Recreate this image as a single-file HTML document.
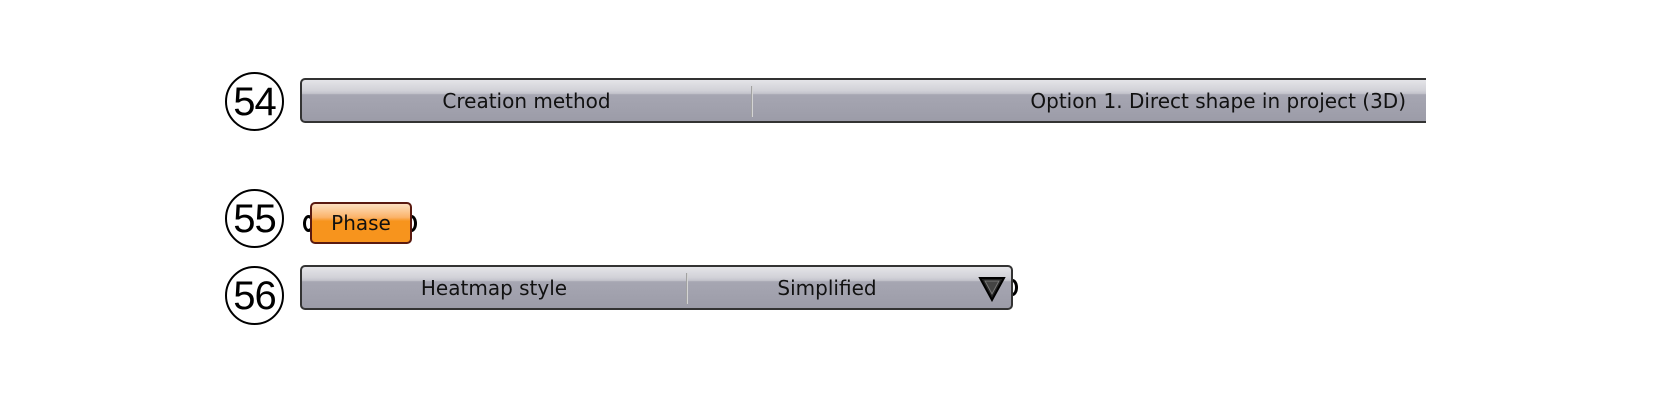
<!DOCTYPE html>
<html><head><style>
body{margin:0;width:1667px;height:400px;background:#fff;position:relative;overflow:hidden;font-family:"DejaVu Sans","Liberation Sans",sans-serif;}
.c{position:absolute;width:59px;height:59px;border:2px solid #000;border-radius:50%;box-sizing:border-box;font-family:"Liberation Sans",sans-serif;font-size:40px;line-height:56px;text-align:center;color:#000;letter-spacing:-1px;}
.bar{position:absolute;box-sizing:border-box;border:2px solid #333;border-radius:5px;background:linear-gradient(#e4e4e8 0%,#d2d2d8 25%,#c4c4cc 33%,#a6a6b2 36%,#9c9ca8 100%);}
.t{position:absolute;top:0;height:100%;display:flex;align-items:center;font-size:20px;color:#111;}
.div{position:absolute;top:6px;bottom:4px;width:2px;background:linear-gradient(90deg,#888,#eee);}
.port{position:absolute;width:11px;height:17px;border:3px solid #000;border-radius:50%;box-sizing:border-box;background:#fff;}
</style></head><body>
<div class="c" style="left:225px;top:72px">54</div>
<div class="bar" style="left:300px;top:78px;width:1140px;height:45px;border-right:none;border-radius:5px 0 0 5px">
 <div class="t" style="left:0;width:449px;justify-content:center">Creation method</div>
 <div class="div" style="left:449px"></div>
 <div class="t" style="right:34px">Option 1. Direct shape in project (3D)</div>
</div>
<div style="position:absolute;left:1426px;top:70px;width:241px;height:60px;background:#fff"></div>

<div class="c" style="left:225px;top:189px">55</div>
<div class="port" style="left:303px;top:215px"></div>
<div class="port" style="left:406px;top:215px"></div>
<div style="position:absolute;left:310px;top:202px;width:102px;height:42px;box-sizing:border-box;border:2px solid #5a1a10;border-radius:5px;background:linear-gradient(#fde0c0 0%,#fbb36a 35%,#f7941d 45%,#f7941d 100%);display:flex;align-items:center;justify-content:center;font-size:20px;color:#111">Phase</div>

<div class="c" style="left:225px;top:266px">56</div>
<div class="port" style="left:1007px;top:279px"></div>
<div class="bar" style="left:300px;top:265px;width:713px;height:45px">
 <div class="t" style="left:0;width:384px;justify-content:center">Heatmap style</div>
 <div class="div" style="left:384px"></div>
 <div class="t" style="left:386px;width:278px;justify-content:center">Simplified</div>
 <svg style="position:absolute;left:676px;top:9px" width="28" height="26"><polygon points="2,2 26,2 14,24" fill="#222" stroke="#000" stroke-width="2"/><polygon points="7,5 21,5 14,18" fill="#444" stroke="#777" stroke-width="1"/></svg>
</div>
</body></html>
